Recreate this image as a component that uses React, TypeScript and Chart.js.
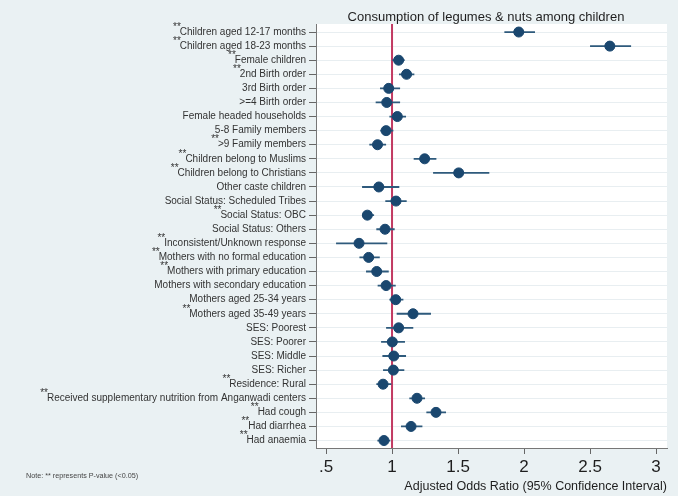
import React, { useEffect, useRef } from "react";
import { Chart, registerables } from "chart.js";

Chart.register(...registerables);

const labels = [
  "Children aged 12-17 months",
  "Children aged 18-23 months",
  "Female children",
  "2nd Birth order",
  "3rd Birth order",
  ">=4 Birth order",
  "Female headed households",
  "5-8 Family members",
  ">9 Family members",
  "Children belong to Muslims",
  "Children belong to Christians",
  "Other caste children",
  "Social Status: Scheduled Tribes",
  "Social Status: OBC",
  "Social Status: Others",
  "Inconsistent/Unknown response",
  "Mothers with no formal education",
  "Mothers with primary education",
  "Mothers with secondary education",
  "Mothers aged 25-34 years",
  "Mothers aged 35-49 years",
  "SES: Poorest",
  "SES: Poorer",
  "SES: Middle",
  "SES: Richer",
  "Residence: Rural",
  "Received supplementary nutrition from Anganwadi centers",
  "Had cough",
  "Had diarrhea",
  "Had anaemia",
];

const oddsRatio = [
  1.96, 2.65, 1.05, 1.11, 0.975, 0.96, 1.04, 0.955, 0.89, 1.247,
  1.505, 0.9, 1.03, 0.813, 0.947, 0.75, 0.823, 0.884, 0.955, 1.028,
  1.159, 1.05, 1.002, 1.013, 1.01, 0.932, 1.189, 1.333, 1.144, 0.939,
];

const ciLower = [
  1.851, 2.5, 1.002, 1.053, 0.909, 0.876, 0.98, 0.911, 0.828, 1.164,
  1.311, 0.773, 0.949, 0.773, 0.881, 0.576, 0.753, 0.803, 0.891, 0.98,
  1.035, 0.955, 0.917, 0.927, 0.932, 0.881, 1.131, 1.26, 1.068, 0.889,
];

const ciUpper = [
  2.083, 2.811, 1.096, 1.169, 1.061, 1.061, 1.106, 1.01, 0.955, 1.336,
  1.737, 1.055, 1.111, 0.864, 1.02, 0.964, 0.907, 0.975, 1.028, 1.086,
  1.295, 1.161, 1.098, 1.106, 1.093, 0.995, 1.25, 1.409, 1.23, 0.987,
];

const significantRows = [0, 1, 2, 3, 8, 9, 10, 13, 15, 16, 17, 20, 25, 26, 27, 28, 29];

const xTicks = [0.5, 1, 1.5, 2, 2.5, 3];
const xTickLabels = [".5", "1", "1.5", "2", "2.5", "3"];

const titleText = "Consumption of legumes & nuts among children";
const xTitleText = "Adjusted Odds Ratio (95% Confidence Interval)";
const noteText = "Note: ** represents P-value (<0.05)";

const FONT = "'Liberation Sans', Arial, sans-serif";
const BG = "#eaf1f3";
const Y_MIN = -0.57;
const Y_MAX = 29.53;
const LABEL_SIZE = 10;
const Y_TICK_LEN = 7;
const Y_TICK_PAD = 3;

export default function App() {
  const ref = useRef<HTMLCanvasElement | null>(null);

  useEffect(() => {
    document.body.style.margin = "0";
    const canvas = ref.current;
    if (!canvas) return;

    const ciData: any[] = [];
    labels.forEach((_, i) => {
      ciData.push({ x: ciLower[i], y: i });
      ciData.push({ x: ciUpper[i], y: i });
      ciData.push({ x: NaN, y: NaN });
    });

    const decor = {
      id: "decor",
      beforeDraw(chart: any) {
        const { ctx, chartArea } = chart;
        ctx.save();
        ctx.fillStyle = BG;
        ctx.fillRect(0, 0, chart.width, chart.height);
        ctx.fillStyle = "#ffffff";
        ctx.fillRect(chartArea.left, chartArea.top, chartArea.right - chartArea.left, chartArea.bottom - chartArea.top);
        ctx.restore();
      },
      afterDraw(chart: any) {
        const { ctx } = chart;
        const yScale = chart.scales.y;
        ctx.save();
        ctx.fillStyle = "#1e1e1e";
        ctx.font = `13px ${FONT}`;
        ctx.textAlign = "center";
        ctx.textBaseline = "middle";
        ctx.fillText(titleText, 486, 17);
        ctx.font = `${LABEL_SIZE}px ${FONT}`;
        const labelRight = yScale.right - Y_TICK_LEN - Y_TICK_PAD;
        ctx.fillStyle = "#333";
        ctx.textAlign = "right";
        significantRows.forEach((i) => {
          const w = ctx.measureText(labels[i]).width;
          const y = yScale.getPixelForValue(i);
          ctx.fillText("**", labelRight - w + 1, y - 5);
        });
        ctx.font = `7.2px ${FONT}`;
        ctx.textAlign = "left";
        ctx.fillStyle = "#444";
        ctx.fillText(noteText, 26, 476);
        ctx.restore();
      },
    };

    const chart = new Chart(canvas, {
      type: "scatter",
      data: {
        datasets: [
          {
            type: "scatter",
            data: labels.map((_, i) => ({ x: oddsRatio[i], y: i })),
            backgroundColor: "#1a476f",
            borderColor: "#1a476f",
            pointRadius: 5,
            pointHoverRadius: 5,
            order: 0,
          } as any,
          {
            type: "line",
            data: ciData,
            borderColor: "#2e5a7c",
            borderWidth: 1.8,
            pointRadius: 0,
            spanGaps: false,
            showLine: true,
            order: 1,
          } as any,
          {
            type: "line",
            data: [
              { x: 1, y: Y_MIN },
              { x: 1, y: Y_MAX },
            ],
            borderColor: "#c23a62",
            borderWidth: 2,
            pointRadius: 0,
            showLine: true,
            order: 2,
          } as any,
        ],
      },
      options: {
        animation: false,
        responsive: true,
        maintainAspectRatio: false,
        layout: { padding: { left: 0, top: 24, right: 11, bottom: 0 } },
        plugins: {
          legend: { display: false },
          tooltip: { enabled: false },
          title: { display: false },
        },
        scales: {
          x: {
            type: "linear",
            min: 0.424,
            max: 3.083,
            afterBuildTicks: (scale: any) => {
              scale.ticks = xTicks.map((v) => ({ value: v }));
            },
            afterFit: (scale: any) => {
              scale.height = 48;
            },
            ticks: {
              autoSkip: false,
              maxRotation: 0,
              padding: 3,
              color: "#1e1e1e",
              font: { family: FONT, size: 17 },
              callback: (v: any) => {
                const idx = xTicks.indexOf(Number(v));
                return idx >= 0 ? xTickLabels[idx] : "";
              },
            },
            grid: {
              drawOnChartArea: false,
              drawTicks: true,
              tickLength: 6,
              tickColor: "#666",
            },
            border: { display: true, color: "#777", width: 1 },
            title: {
              display: true,
              text: xTitleText,
              align: "end",
              color: "#1e1e1e",
              font: { family: FONT, size: 12.5 },
              padding: { top: 0, bottom: 2 },
            },
          },
          y: {
            type: "linear",
            reverse: true,
            min: Y_MIN,
            max: Y_MAX,
            afterBuildTicks: (scale: any) => {
              scale.ticks = labels.map((_, i) => ({ value: i }));
            },
            afterFit: (scale: any) => {
              scale.width = 316;
            },
            ticks: {
              autoSkip: false,
              padding: Y_TICK_PAD,
              color: "#333",
              font: { family: FONT, size: LABEL_SIZE },
              callback: (v: any) => labels[Number(v)] ?? "",
            },
            grid: {
              drawOnChartArea: true,
              color: "#e8eef1",
              lineWidth: 1,
              drawTicks: true,
              tickLength: Y_TICK_LEN,
              tickColor: "#666",
            },
            border: { display: true, color: "#777", width: 1 },
          },
        },
      },
      plugins: [decor],
    });

    return () => chart.destroy();
  }, []);

  return (
    <div style={{ position: "absolute", left: 0, top: 0, width: 678, height: 496, background: BG }}>
      <canvas ref={ref} />
    </div>
  );
}
